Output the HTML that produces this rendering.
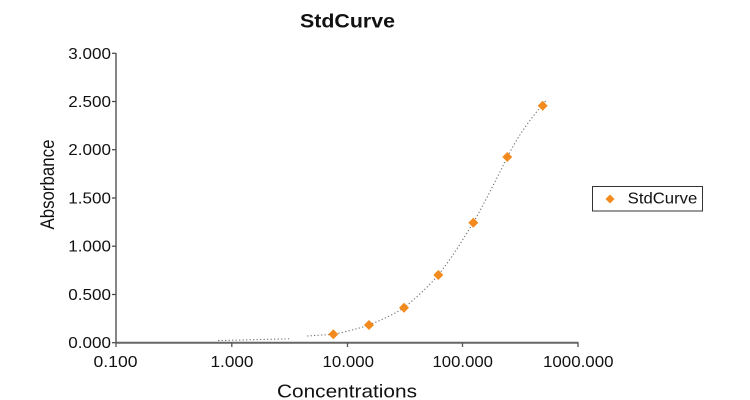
<!DOCTYPE html>
<html>
<head>
<meta charset="utf-8">
<style>
  html, body { margin: 0; padding: 0; background: #ffffff; }
  svg { display: block; }
  text { font-family: "Liberation Sans", Arial, sans-serif; fill: #111; }
</style>
</head>
<body>
<svg width="750" height="400" viewBox="0 0 750 400" xmlns="http://www.w3.org/2000/svg">
  <rect x="0" y="0" width="750" height="400" fill="#ffffff"/>

  <!-- Title -->
  <text x="300" y="27.5" font-size="19.5" font-weight="bold" textLength="95" lengthAdjust="spacingAndGlyphs">StdCurve</text>

  <!-- Axes -->
  <line x1="116" y1="53" x2="116" y2="343" stroke="#444" stroke-width="1.3"/>
  <line x1="116" y1="342.7" x2="578.5" y2="342.7" stroke="#666" stroke-width="2"/>

  <!-- Y ticks -->
  <g stroke="#444" stroke-width="1.2">
    <line x1="112" y1="53.3" x2="116" y2="53.3"/>
    <line x1="112" y1="101.5" x2="116" y2="101.5"/>
    <line x1="112" y1="149.7" x2="116" y2="149.7"/>
    <line x1="112" y1="198" x2="116" y2="198"/>
    <line x1="112" y1="246.2" x2="116" y2="246.2"/>
    <line x1="112" y1="294.5" x2="116" y2="294.5"/>
    <line x1="112" y1="342.7" x2="116" y2="342.7"/>
  </g>
  <!-- X ticks -->
  <g stroke="#555" stroke-width="1.3">
    <line x1="116" y1="342.7" x2="116" y2="347"/>
    <line x1="231.8" y1="342.7" x2="231.8" y2="347"/>
    <line x1="347.5" y1="342.7" x2="347.5" y2="347"/>
    <line x1="462.5" y1="342.7" x2="462.5" y2="347"/>
    <line x1="578" y1="342.7" x2="578" y2="347"/>
  </g>

  <!-- Y tick labels -->
  <g font-size="15.5">
    <text x="68.3" y="58.8" textLength="42.7" lengthAdjust="spacingAndGlyphs">3.000</text>
    <text x="68.3" y="107" textLength="42.7" lengthAdjust="spacingAndGlyphs">2.500</text>
    <text x="68.3" y="155.2" textLength="42.7" lengthAdjust="spacingAndGlyphs">2.000</text>
    <text x="68.3" y="203.5" textLength="42.7" lengthAdjust="spacingAndGlyphs">1.500</text>
    <text x="68.3" y="251.7" textLength="42.7" lengthAdjust="spacingAndGlyphs">1.000</text>
    <text x="68.3" y="300" textLength="42.7" lengthAdjust="spacingAndGlyphs">0.500</text>
    <text x="68.3" y="348.2" textLength="42.7" lengthAdjust="spacingAndGlyphs">0.000</text>
  </g>

  <!-- X tick labels -->
  <g font-size="16">
    <text x="93.5" y="367" textLength="44" lengthAdjust="spacingAndGlyphs">0.100</text>
    <text x="210.5" y="367" textLength="43" lengthAdjust="spacingAndGlyphs">1.000</text>
    <text x="322.5" y="367" textLength="51.5" lengthAdjust="spacingAndGlyphs">10.000</text>
    <text x="432.5" y="367" textLength="60.5" lengthAdjust="spacingAndGlyphs">100.000</text>
    <text x="543" y="367" textLength="70.5" lengthAdjust="spacingAndGlyphs">1000.000</text>
  </g>

  <!-- Axis titles -->
  <text x="277" y="397.5" font-size="18.5" textLength="140" lengthAdjust="spacingAndGlyphs">Concentrations</text>
  <text transform="translate(54,229.5) rotate(-90)" x="0" y="0" font-size="19.5" textLength="90" lengthAdjust="spacingAndGlyphs">Absorbance</text>

  <!-- Trend line (dotted) -->
  <g fill="none" stroke="#777" stroke-width="1.1" stroke-dasharray="1.3 2.2">
    <path d="M218,340.6 L289,338.8"/>
    <path d="M307,336 L333.3,334.3 C345,332 357,329 369,325 C381,320 393,315 404,307.7 C416,298 428,287 438.3,275 C451,259 462,241 473.3,222.7 C485,202 496,180 507.3,157 C519,134 531,118 546,100.5"/>
  </g>

  <!-- Data points -->
  <g fill="#f28a1e">
    <path d="M333.3,329.3 L338.3,334.3 L333.3,339.3 L328.3,334.3 Z"/>
    <path d="M369,320 L374,325 L369,330 L364,325 Z"/>
    <path d="M404,302.7 L409,307.7 L404,312.7 L399,307.7 Z"/>
    <path d="M438.3,270 L443.3,275 L438.3,280 L433.3,275 Z"/>
    <path d="M473.3,217.7 L478.3,222.7 L473.3,227.7 L468.3,222.7 Z"/>
    <path d="M507.3,152 L512.3,157 L507.3,162 L502.3,157 Z"/>
    <path d="M542.7,100.7 L547.7,105.7 L542.7,110.7 L537.7,105.7 Z"/>
  </g>

  <!-- Legend -->
  <rect x="592.5" y="186.5" width="110" height="24.5" fill="#ffffff" stroke="#333" stroke-width="1"/>
  <path d="M610,194.5 L614.5,199 L610,203.5 L605.5,199 Z" fill="#f28a1e"/>
  <text x="627.7" y="203.5" font-size="16" textLength="69.6" lengthAdjust="spacingAndGlyphs">StdCurve</text>
</svg>
</body>
</html>
